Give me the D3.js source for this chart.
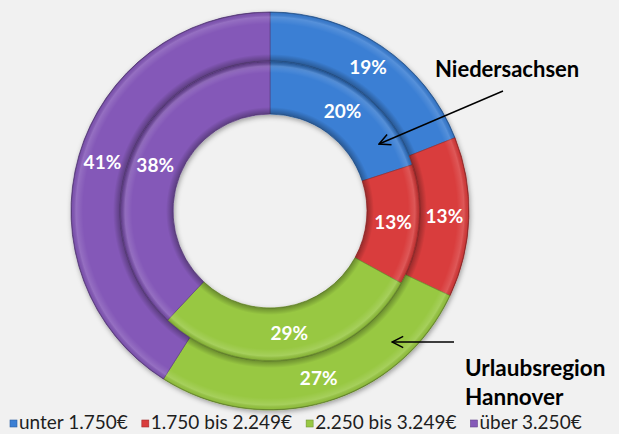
<!DOCTYPE html>
<html>
<head>
<meta charset="utf-8">
<script src="https://cdn.jsdelivr.net/npm/d3@7.9.0/dist/d3.min.js"></script>
<style>
  html, body { margin: 0; padding: 0; background: #f1f1f1; }
  svg { display: block; }
</style>
</head>
<body>
<div id="chart"></div>
<script>
// income groups
const categories = ['unter 1.750€', '1.750 bis 2.249€', '2.250 bis 3.249€', 'über 3.250€'];
// inner ring
const niedersachsen = [20, 13, 29, 38];
// outer ring
const hannover = [19, 13, 27, 41];
const colors = ['#3b7fd4', '#d93d3d', '#98c843', '#8459b8'];

const width = 619;
const height = 434;
const cx = 270, cy = 211;

const svg = d3.select('#chart')
  .append('svg')
  .attr('width', width)
  .attr('height', height);

const defs = svg.append('defs');
const shadow = defs.append('filter').attr('id', 'shadow')
  .attr('x', '-20%').attr('y', '-20%').attr('width', '140%').attr('height', '140%');
shadow.append('feDropShadow')
  .attr('dx', 1).attr('dy', 2).attr('stdDeviation', 2.5)
  .attr('flood-color', '#000').attr('flood-opacity', 0.35);

const arrowMarker = defs.append('marker')
  .attr('id', 'arrow')
  .attr('viewBox', '0 0 10 10')
  .attr('refX', 9).attr('refY', 5)
  .attr('markerWidth', 14).attr('markerHeight', 14)
  .attr('orient', 'auto')
  .attr('markerUnits', 'userSpaceOnUse');
arrowMarker.append('path')
  .attr('d', 'M1,1 L9,5 L1,9')
  .attr('fill', 'none')
  .attr('stroke', '#000')
  .attr('stroke-width', 1.1);

const pie = d3.pie().sort(null).value(d => d);

const rings = [
  { values: niedersachsen, inner: 97, outer: 150, id: 'bevIn' },
  { values: hannover, inner: 150, outer: 199, id: 'bevOut' }
];

const g = svg.append('g').attr('transform', `translate(${cx},${cy})`);

rings.forEach((ring) => {
  const arcs = pie(ring.values);
  const arc = d3.arc().innerRadius(ring.inner).outerRadius(ring.outer);

  // radial bevel overlay (coordinates are relative to the ring centre)
  const f = r => r / ring.outer;
  const grad = defs.append('radialGradient').attr('id', ring.id)
    .attr('gradientUnits', 'userSpaceOnUse')
    .attr('cx', 0).attr('cy', 0).attr('r', ring.outer)
    .attr('fx', 0).attr('fy', 0);
  [
    [f(ring.inner), '#000', 0.3],
    [f(ring.inner + 7), '#000', 0.0],
    [f(ring.outer - 12), '#fff', 0.0],
    [f(ring.outer - 5), '#fff', 0.14],
    [f(ring.outer - 1.5), '#000', 0.05],
    [1, '#000', 0.3]
  ].forEach(([o, c, a]) => grad.append('stop')
    .attr('offset', o).attr('stop-color', c).attr('stop-opacity', a));

  const rg = g.append('g').attr('filter', 'url(#shadow)');
  rg.selectAll('path.seg')
    .data(arcs)
    .join('path')
    .attr('class', 'seg')
    .attr('d', arc)
    .attr('fill', (d, i) => colors[i])
    .attr('stroke', (d, i) => d3.color(colors[i]).darker(0.8))
    .attr('stroke-width', 0.8);

  g.selectAll(null).data(arcs).join('path')
    .attr('d', arc)
    .attr('fill', `url(#${ring.id})`);

  const mid = (ring.inner + ring.outer) / 2;
  const labelArc = d3.arc().innerRadius(mid).outerRadius(mid);
  g.selectAll(null).data(arcs).join('text')
    .attr('transform', d => `translate(${labelArc.centroid(d)})`)
    .attr('text-anchor', 'middle')
    .attr('dy', '0.36em')
    .attr('fill', '#fff')
    .style('font', 'bold 19px Lato, sans-serif')
    .text(d => d.data + '%');
});

// series labels + arrows
svg.append('text')
  .attr('x', 435).attr('y', 77)
  .style('font', 'bold 22px Lato, sans-serif')
  .attr('fill', '#000')
  .text('Niedersachsen');

svg.append('line')
  .attr('x1', 503).attr('y1', 91)
  .attr('x2', 379).attr('y2', 144)
  .attr('stroke', '#000').attr('stroke-width', 1.4)
  .attr('marker-end', 'url(#arrow)');

const hText = svg.append('text')
  .attr('x', 465).attr('y', 376)
  .style('font', 'bold 22.5px Lato, sans-serif')
  .attr('fill', '#000');
hText.append('tspan').attr('x', 465).text('Urlaubsregion');
hText.append('tspan').attr('x', 465).attr('dy', 29).text('Hannover');

svg.append('line')
  .attr('x1', 454).attr('y1', 342)
  .attr('x2', 392).attr('y2', 342)
  .attr('stroke', '#000').attr('stroke-width', 1.4)
  .attr('marker-end', 'url(#arrow)');

// legend
const legend = svg.append('g').attr('class', 'legend');
let lx = 10;
categories.forEach((c, i) => {
  const item = legend.append('g').attr('transform', `translate(${lx},0)`);
  item.append('rect')
    .attr('x', 0).attr('y', 420)
    .attr('width', 7).attr('height', 7)
    .attr('fill', colors[i])
    .attr('stroke', d3.color(colors[i]).darker(0.8))
    .attr('stroke-width', 0.6);
  const t = item.append('text')
    .attr('x', 9).attr('y', 429)
    .attr('fill', '#1e1e1e')
    .style('font', '19px Lato, sans-serif')
    .text(c);
  lx += 9 + t.node().getComputedTextLength() + 14;
});
</script>
</body>
</html>
